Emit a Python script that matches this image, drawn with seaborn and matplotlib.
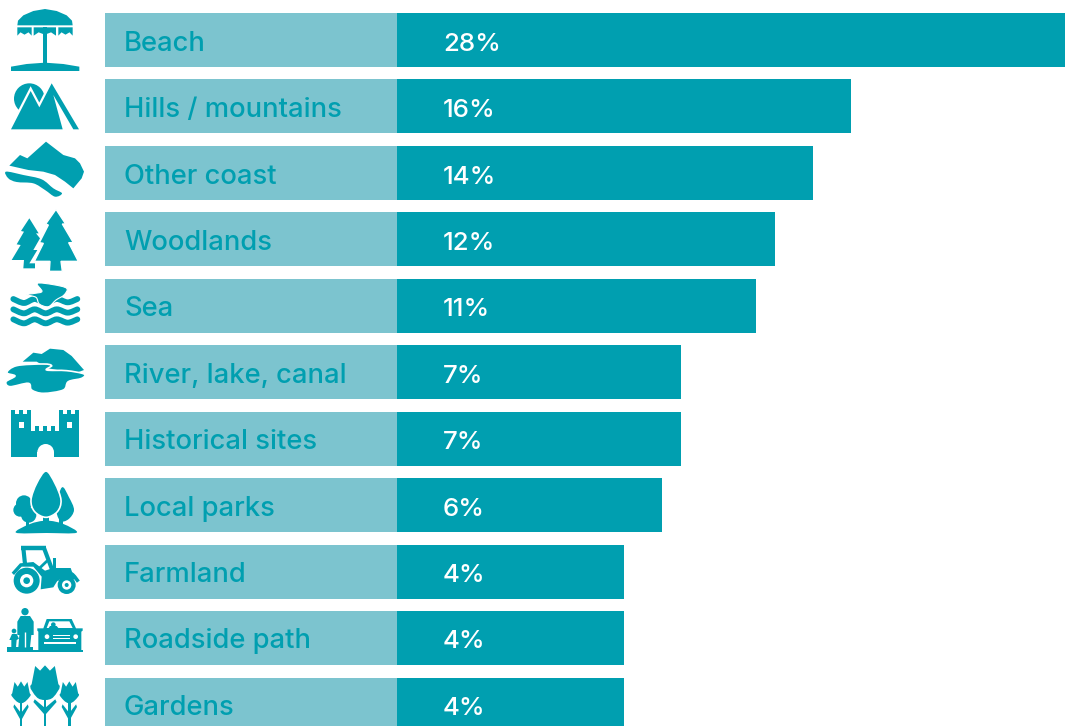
import numpy as np
import pandas as pd
import matplotlib
matplotlib.use("Agg")
import matplotlib.pyplot as plt
from matplotlib.path import Path
from matplotlib.patches import PathPatch, Circle, Rectangle
import seaborn as sns

# Chart data
categories = ["Beach", "Hills / mountains", "Other coast", "Woodlands", "Sea",
              "River, lake, canal", "Historical sites", "Local parks",
              "Farmland", "Roadside path", "Gardens"]
shares = [28, 16, 14, 12, 11, 7, 7, 6, 4, 4, 4]

DARK = "#009FB0"
LIGHT = "#7CC4CF"
W, H = 1065, 726

# Horizontal scale: zero sits at x=548 px, one percent spans 18.95 px
PX_ZERO, PX_PER_PCT = 548, 18.95
ROW_TOP, ROW_STEP = 40, 66.5
# Text baselines run on a slightly tighter pitch than the bars
BASE_TOP, BASE_STEP = 51.0, 66.36


def to_x(px):
    return (px - PX_ZERO) / PX_PER_PCT


sns.set_theme(style="white")
plt.rcParams["font.family"] = ["Inter", "DejaVu Sans"]

fig = plt.figure(figsize=(W / 100, H / 100), dpi=100)
ax = fig.add_axes([0, 0, 1, 1])

table = pd.DataFrame({
    "category": categories,
    "share": shares,
    "panel": to_x(105) * np.ones(len(shares)),
    "stub": to_x(397) * np.ones(len(shares)),
})
bar_kw = dict(y="category", orient="y", width=54 / ROW_STEP, saturation=1, ax=ax,
              linewidth=0, edgecolor="none")
sns.barplot(data=table, x="panel", color=LIGHT, **bar_kw)
sns.barplot(data=table, x="stub", color=DARK, **bar_kw)
sns.barplot(data=table, x="share", color=DARK, **bar_kw)

ax.set_xlim(to_x(0), to_x(W))
ax.set_ylim((H - ROW_TOP) / ROW_STEP, -ROW_TOP / ROW_STEP)
ax.axis("off")

for i, (name, share) in enumerate(zip(categories, shares)):
    y = (BASE_TOP + BASE_STEP * i - ROW_TOP) / ROW_STEP
    ax.text(to_x(124), y, name, color=DARK, fontsize=19.7,
            fontweight="medium", va="baseline", ha="left")
    ax.text(to_x(443), y, f"{share}%", color="white", fontsize=18.6,
            fontweight="medium", va="baseline", ha="left")

# Pictograms live on a pixel-space overlay; shapes are given at 3x scale
ov = fig.add_axes([0, 0, 1, 1], facecolor="none")
ov.set_xlim(0, W)
ov.set_ylim(H, 0)
ov.axis("off")


def spline(pts, closed=True):
    p = np.asarray(pts, float)
    n = len(p)
    verts, codes = [p[0]], [Path.MOVETO]
    last = n if closed else n - 1
    for i in range(last):
        if closed:
            p0, p1, p2, p3 = p[i - 1], p[i], p[(i + 1) % n], p[(i + 2) % n]
        else:
            p0, p1, p2, p3 = p[max(i - 1, 0)], p[i], p[i + 1], p[min(i + 2, n - 1)]
        verts += [p1 + (p2 - p0) / 6, p2 - (p3 - p1) / 6, p2]
        codes += [Path.CURVE4] * 3
    return Path(verts, codes)


class Icon:
    def __init__(self, oy):
        self.oy = oy

    def xy(self, pts):
        return [(x / 3, y / 3 + self.oy) for x, y in pts]

    def poly(self, pts, color=DARK, edge=None, lw=0):
        ov.add_patch(plt.Polygon(self.xy(pts), closed=True, fc=color,
                                 ec=edge or "none", lw=lw, joinstyle="miter"))

    def blob(self, pts, color=DARK, edge=None, lw=0):
        ov.add_patch(PathPatch(spline(self.xy(pts)), fc=color, ec=edge or "none", lw=lw))

    def stroke(self, pts, lw, color=DARK, smooth=False, cap="butt"):
        v = self.xy(pts)
        path = spline(v, closed=False) if smooth else Path(v)
        ov.add_patch(PathPatch(path, fc="none", ec=color, lw=lw, capstyle=cap))

    def disc(self, x, y, r, color=DARK):
        ov.add_patch(Circle((x / 3, y / 3 + self.oy), r / 3, fc=color, ec="none"))

    def box(self, x0, y0, x1, y1, color=DARK):
        ov.add_patch(Rectangle((x0 / 3, y0 / 3 + self.oy), (x1 - x0) / 3, (y1 - y0) / 3,
                               fc=color, ec="none"))


# Beach umbrella
ic = Icon(0)
ic.poly([(52, 76), (54, 62), (70, 46), (100, 33), (135, 27), (170, 33), (200, 46), (216, 62),
         (218, 76)])
for x0, x1 in [(52, 95), (101, 168), (175, 218)]:
    w = x1 - x0
    ic.poly([(x0, 82), (x1, 82), (x1, 107), (x1 - w * .22, 97), (x0 + w * .5, 104),
             (x0 + w * .22, 97), (x0, 107)])
ic.box(128, 82, 140, 195)
ic.poly([(33, 213), (33, 200), (80, 192), (135, 188), (190, 192), (238, 200), (238, 213)])

# Mountains with sun
ic = Icon(0)
ic.disc(88, 296, 46)
peaks = [(33, 388), (92, 273), (118, 322), (155, 250), (237, 388), (220, 388),
         (160, 285), (188, 388)]
ic.poly(peaks, "white", edge="white", lw=3.2)
ic.poly(peaks)

# Coastline
ic = Icon(0)
ic.poly([(28, 497), (60, 465), (82, 475), (138, 425), (190, 465), (225, 475), (240, 490),
         (252, 515), (245, 535), (220, 565), (195, 545), (165, 525), (130, 515), (85, 510)])
ic.blob([(18, 515), (70, 525), (125, 538), (160, 565), (186, 580), (165, 590), (135, 570),
         (100, 550), (50, 546), (25, 535)])

# Woodland
ic = Icon(200)
ic.poly([(88, 55), (116, 100), (108, 100), (120, 115), (100, 150), (112, 150), (88, 190),
         (105, 190), (105, 205), (70, 205), (72, 180), (35, 180), (62, 135), (50, 133),
         (72, 95), (63, 93)])
ic.poly([(168, 28), (197, 72), (187, 72), (220, 128), (206, 128), (235, 184), (183, 184),
         (187, 214), (148, 214), (150, 184), (103, 184), (130, 130), (118, 128), (145, 75),
         (137, 72)], edge="white", lw=1.0)

# Sea with leaping fish
ic = Icon(200)
for y in (297, 328, 358):
    ic.stroke([(40, y), (72, y + 12), (104, y), (137, y + 12), (170, y), (203, y + 10), (232, y)],
              lw=4.2, smooth=True, cap="round")
ic.blob([(112, 250), (160, 254), (200, 265), (192, 285), (168, 300), (145, 320), (118, 312),
         (108, 292), (80, 284), (105, 280), (126, 274)], edge="white", lw=0.8)

# River and lake
ic = Icon(200)
ic.poly([(68, 485), (100, 458), (125, 462), (150, 446), (190, 450), (215, 468), (252, 510),
         (225, 520), (145, 505), (110, 485)])
ic.blob([(20, 518), (50, 497), (130, 492), (155, 497), (140, 510), (200, 512), (252, 522),
         (245, 535), (205, 545), (190, 570), (130, 580), (95, 570), (85, 550), (30, 560),
         (18, 545), (45, 528)], edge="white", lw=1.2)

# Castle
ic = Icon(400)
ic.poly([(33, 172), (33, 30), (45, 30), (45, 42), (57, 42), (57, 30), (69, 30), (69, 42),
         (81, 42), (81, 30), (93, 30), (93, 92), (105, 92), (105, 78), (117, 78), (117, 92),
         (129, 92), (129, 78), (141, 78), (141, 92), (153, 92), (153, 78), (165, 78),
         (165, 92), (178, 92), (178, 30), (190, 30), (190, 42), (202, 42), (202, 30),
         (214, 30), (214, 42), (226, 42), (226, 30), (238, 30), (238, 172)])
ic.box(58, 67, 71, 85, "white")
ic.box(202, 67, 215, 85, "white")
ic.disc(137, 157, 25, "white")
ic.box(112, 157, 162, 173, "white")

# Park trees
ic = Icon(400)
ic.blob([(186, 262), (207, 292), (222, 330), (205, 358), (180, 362), (168, 320)])
ic.disc(72, 310, 24)
ic.disc(60, 330, 20)
ic.disc(86, 345, 23)
ic.box(78, 350, 86, 380)
ic.box(130, 340, 146, 370)
ic.box(178, 350, 190, 380)
ic.blob([(138, 213), (165, 250), (183, 300), (172, 335), (138, 352), (104, 335), (93, 300),
         (110, 250)], edge="white", lw=1.2)
ic.blob([(48, 398), (90, 372), (140, 362), (190, 372), (230, 398), (140, 399)])

# Tractor
ic = Icon(540)
ic.stroke([(62, 24), (137, 24)], lw=3.2)
ic.stroke([(70, 24), (75, 72)], lw=3.0)
ic.stroke([(132, 24), (156, 88)], lw=3.0)
ic.stroke([(118, 85), (142, 62)], lw=2.0)
ic.box(160, 55, 168, 88)
ic.poly([(35, 98), (60, 70), (100, 66), (135, 92), (160, 84), (212, 84), (224, 118),
         (175, 118), (160, 142), (122, 148), (125, 110), (100, 80), (65, 80), (42, 105)])
ic.stroke([(170, 120), (190, 102), (215, 102), (235, 125)], lw=2.6, smooth=True)
ic.disc(80, 122, 39)
ic.disc(80, 122, 20, "white")
ic.disc(80, 122, 10)
ic.disc(200, 135, 27)
ic.disc(200, 135, 14, "white")
ic.disc(200, 135, 6)

# Pedestrian, child and car beside a kerb
ic = Icon(540)
ic.box(22, 322, 100, 337)
ic.box(100, 330, 248, 337)
ic.disc(75, 215, 11)
ic.poly([(62, 228), (90, 228), (101, 245), (101, 285), (94, 285), (90, 322), (55, 322),
         (58, 285), (52, 285), (52, 245)])
ic.stroke([(75, 275), (75, 322)], lw=1.0, color="white")
ic.disc(42, 273, 7)
ic.poly([(36, 282), (50, 282), (57, 296), (50, 300), (48, 322), (34, 322), (34, 300),
         (28, 300)])
ic.poly([(130, 265), (140, 237), (215, 237), (228, 265), (248, 265), (248, 272), (244, 275),
         (244, 330), (115, 330), (115, 275), (112, 272), (112, 265)])
ic.poly([(140, 264), (148, 244), (208, 244), (218, 264)], "white")
ic.disc(160, 254, 7)
ic.poly([(146, 264), (150, 258), (170, 258), (175, 264)])
ic.disc(141, 290, 7, "white")
ic.disc(227, 290, 7, "white")
ic.box(158, 284, 210, 288, "white")
ic.box(158, 294, 210, 298, "white")
ic.box(132, 307, 228, 311, "white")


# Tulips
def tulip(ic, x, top, half, bottom, stem_end, leaf_y):
    ic.box(x - 4, bottom - 4, x + 4, stem_end)
    ic.poly([(x - half * .75, leaf_y - 12), (x, leaf_y + 14), (x + half * .75, leaf_y - 12),
             (x + half * .85, leaf_y - 4), (x + 3, leaf_y + 32), (x - 3, leaf_y + 32),
             (x - half * .85, leaf_y - 4)])
    ic.blob([(x - half, top + (bottom - top) * .55), (x - half * .62, bottom - 9), (x, bottom),
             (x + half * .62, bottom - 9), (x + half, top + (bottom - top) * .55)])
    ic.poly([(x - half, top + (bottom - top) * .58), (x - half * .72, top), (x - half * .36, top + 14),
             (x, top - 2), (x + half * .36, top + 14), (x + half * .72, top),
             (x + half, top + (bottom - top) * .58)])


ic = Icon(540)
tulip(ic, 63, 426, 27, 490, 558, 505)
tulip(ic, 135, 378, 41, 480, 558, 490)
tulip(ic, 208, 426, 27, 490, 558, 505)

fig.savefig("out.png", dpi=100)
